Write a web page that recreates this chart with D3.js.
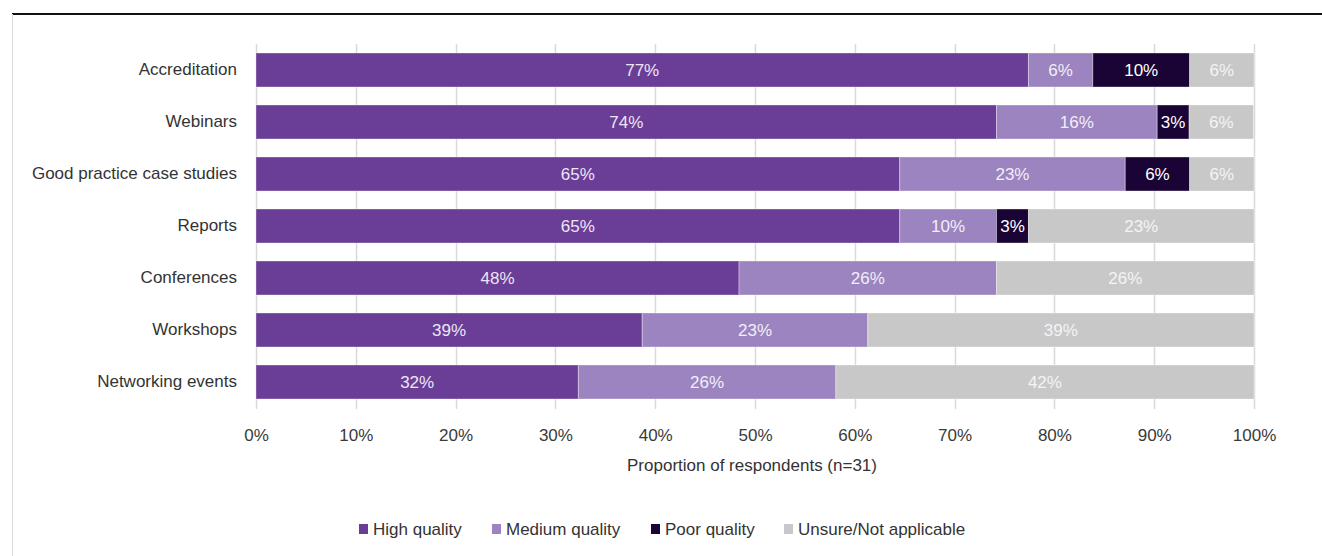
<!DOCTYPE html>
<html>
<head>
<meta charset="utf-8">
<script src="https://cdn.jsdelivr.net/npm/d3@7"></script>
<style>
  html, body { margin: 0; padding: 0; background: #fff; }
  svg { display: block; font-family: "Liberation Sans", Arial, sans-serif; }
</style>
</head>
<body>
<svg id="chart" width="1322" height="556"></svg>
<script>
// Resources rated by respondents (n=31)
const categories = ["Accreditation", "Webinars", "Good practice case studies", "Reports",
                    "Conferences", "Workshops", "Networking events"];
const seriesNames = ["High quality", "Medium quality", "Poor quality", "Unsure/Not applicable"];
// Shares of respondents, in percent
const highQuality   = [77.4, 74.2, 64.5, 64.5, 48.4, 38.7, 32.3];
const mediumQuality = [6.45, 16.1, 22.6, 9.7, 25.8, 22.6, 25.8];
const poorQuality   = [9.7, 3.2, 6.45, 3.2, 0, 0, 0];
const unsure        = [6.45, 6.45, 6.45, 22.6, 25.8, 38.7, 41.9];
const tickValues = [0, 10, 20, 30, 40, 50, 60, 70, 80, 90, 100];
const axisTitle = "Proportion of respondents (n=31)";

const colors = ["#6a3d96", "#9b84bf", "#1a0436", "#c8c8c8"];
const labelColors = ["#ece6f4", "#f2eef8", "#ffffff", "#f4f4f4"];
const FS = 17;

const svg = d3.select("#chart");

// frame: top rule and left edge
svg.append("line").attr("x1", 12).attr("x2", 1322).attr("y1", 14).attr("y2", 14)
  .attr("stroke", "#111").attr("stroke-width", 2);
svg.append("line").attr("x1", 12.5).attr("x2", 12.5).attr("y1", 14).attr("y2", 556)
  .attr("stroke", "#dcdcdc").attr("stroke-width", 1);

const x = d3.scaleLinear().domain([0, 100]).range([256, 1254]);
const y = d3.scaleBand().domain(categories).range([44, 408])
  .paddingInner(0.346).paddingOuter(0.173);

const rows = categories.map((c, i) => ({
  category: c,
  "High quality": highQuality[i],
  "Medium quality": mediumQuality[i],
  "Poor quality": poorQuality[i],
  "Unsure/Not applicable": unsure[i]
}));
const stacked = d3.stack().keys(seriesNames)(rows);

// gridlines with small ticks below the plot
const grid = svg.append("g");
grid.selectAll("line").data(tickValues).join("line")
  .attr("x1", d => Math.round(x(d)) + 0.5).attr("x2", d => Math.round(x(d)) + 0.5)
  .attr("y1", 44).attr("y2", 409)
  .attr("stroke", "#d9d9d9").attr("stroke-width", 1.5);

// x axis tick labels
const xAxis = d3.axisBottom(x).tickValues(tickValues).tickSize(0).tickPadding(0)
  .tickFormat(d => d + "%");
const gx = svg.append("g").attr("transform", "translate(0,429)").call(xAxis);
gx.select(".domain").remove();
gx.selectAll("text").attr("font-size", FS).attr("fill", "#3a3a3a")
  .attr("font-family", "Liberation Sans, Arial, sans-serif");

svg.append("text").attr("x", 752).attr("y", 465).attr("dy", "0.36em").attr("text-anchor", "middle")
  .attr("font-size", FS).attr("fill", "#333").text(axisTitle);

// y axis category labels
const yAxis = d3.axisLeft(y).tickSize(0).tickPadding(0);
const gy = svg.append("g").attr("transform", "translate(237,0)").call(yAxis);
gy.select(".domain").remove();
gy.selectAll("text").attr("font-size", FS).attr("fill", "#333")
  .attr("font-family", "Liberation Sans, Arial, sans-serif");

// stacked bars
const layers = svg.append("g").selectAll("g").data(stacked).join("g")
  .attr("fill", (d, i) => colors[i]);
layers.selectAll("rect").data(d => d.map(p => ({p, key: d.key}))).join("rect")
  .attr("x", d => x(d.p[0]))
  .attr("y", d => y(d.p.data.category))
  .attr("width", d => Math.max(0, x(d.p[1]) - x(d.p[0])))
  .attr("height", y.bandwidth())
  .attr("stroke", "rgba(255,255,255,0.35)").attr("stroke-width", 1);

// value labels
const labels = svg.append("g");
stacked.forEach((layer, si) => {
  layer.forEach(p => {
    const v = p[1] - p[0];
    if (v <= 0) return;
    labels.append("text")
      .attr("x", (x(p[0]) + x(p[1])) / 2)
      .attr("y", y(p.data.category) + y.bandwidth() / 2)
      .attr("dy", "0.36em")
      .attr("text-anchor", "middle")
      .attr("font-size", FS)
      .attr("fill", labelColors[si])
      .text(Math.round(v) + "%");
  });
});

// legend
const legendX = [359, 492, 651, 784];
const legend = svg.append("g");
seriesNames.forEach((name, i) => {
  legend.append("rect").attr("x", legendX[i]).attr("y", 524).attr("width", 9).attr("height", 10)
    .attr("fill", colors[i]);
  legend.append("text").attr("x", legendX[i] + 14).attr("y", 529).attr("dy", "0.36em")
    .attr("font-size", FS).attr("fill", "#333").text(name);
});
</script>
</body>
</html>
